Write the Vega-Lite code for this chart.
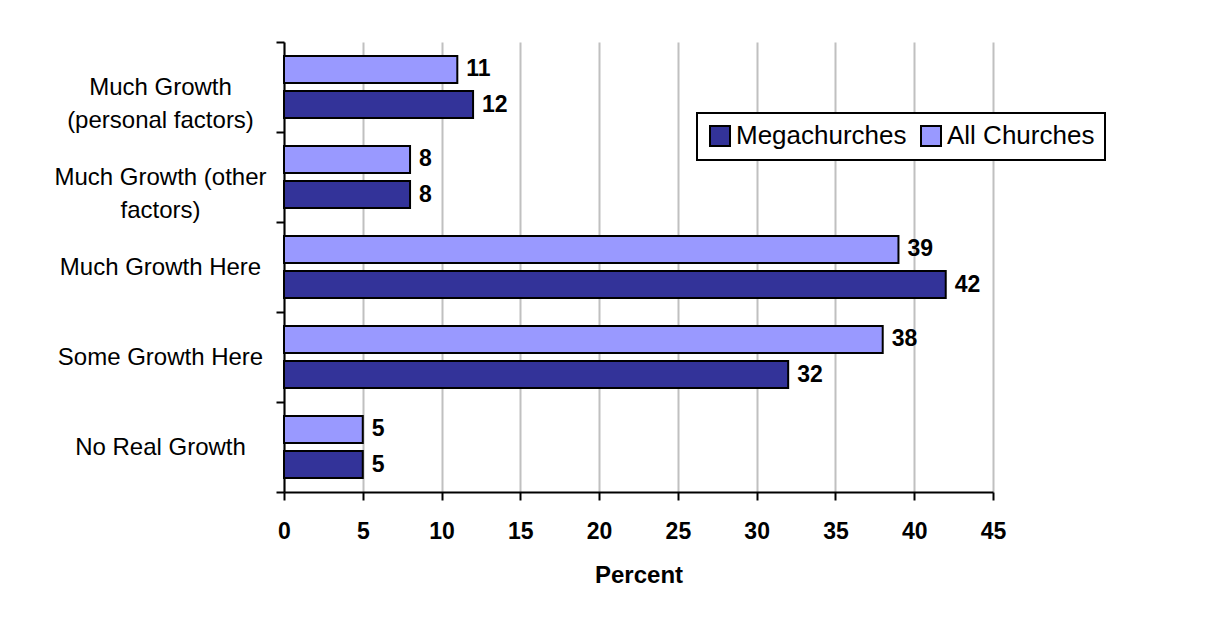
{
  "$schema": "https://vega.github.io/schema/vega-lite/v6.json",
  "width": 709,
  "height": 450,
  "autosize": {"type": "none"},
  "padding": {"left": 284, "top": 42, "right": 222, "bottom": 134},
  "background": "white",
  "config": {
    "view": {"stroke": null},
    "font": "Liberation Sans",
    "legend": {"strokeWidth": 2}
  },
  "data": {
    "values": [
      {"category": "Much Growth (personal factors)", "series": "All Churches", "value": 11},
      {"category": "Much Growth (personal factors)", "series": "Megachurches", "value": 12},
      {"category": "Much Growth (other factors)", "series": "All Churches", "value": 8},
      {"category": "Much Growth (other factors)", "series": "Megachurches", "value": 8},
      {"category": "Much Growth Here", "series": "All Churches", "value": 39},
      {"category": "Much Growth Here", "series": "Megachurches", "value": 42},
      {"category": "Some Growth Here", "series": "All Churches", "value": 38},
      {"category": "Some Growth Here", "series": "Megachurches", "value": 32},
      {"category": "No Real Growth", "series": "All Churches", "value": 5},
      {"category": "No Real Growth", "series": "Megachurches", "value": 5}
    ]
  },
  "encoding": {
    "y": {
      "field": "category",
      "type": "nominal",
      "sort": ["Much Growth (personal factors)", "Much Growth (other factors)", "Much Growth Here", "Some Growth Here", "No Real Growth"],
      "scale": {"paddingInner": 0, "paddingOuter": 0},
      "axis": {
        "title": null,
        "tickBand": "extent",
        "grid": false,
        "domainColor": "black",
        "domainWidth": 2,
        "tickColor": "black",
        "tickWidth": 2,
        "tickSize": 8,
        "labelAlign": "center",
        "labelBaseline": "middle",
        "labelPadding": 116,
        "labelFont": "Liberation Sans",
        "labelFontSize": 24,
        "labelColor": "black",
        "labelLineHeight": 33,
        "labelLimit": 0,
        "labelOverlap": false,
        "labelExpr": "datum.value == 'Much Growth (personal factors)' ? ['Much Growth', '(personal factors)'] : datum.value == 'Much Growth (other factors)' ? ['Much Growth (other', 'factors)'] : datum.value"
      }
    },
    "yOffset": {
      "field": "series",
      "type": "nominal",
      "sort": ["All Churches", "Megachurches"],
      "scale": {"paddingInner": 0.23, "paddingOuter": 0.4}
    },
    "x": {
      "field": "value",
      "type": "quantitative",
      "scale": {"domain": [0, 45], "nice": false},
      "axis": {
        "values": [0, 5, 10, 15, 20, 25, 30, 35, 40, 45],
        "grid": true,
        "gridColor": "#c0c0c0",
        "gridWidth": 2,
        "domainColor": "black",
        "domainWidth": 2,
        "tickColor": "black",
        "tickWidth": 2,
        "tickSize": 8,
        "labelFlush": false,
        "labelFont": "Liberation Sans",
        "labelFontSize": 23,
        "labelFontWeight": "bold",
        "labelColor": "black",
        "labelPadding": 20,
        "title": "Percent",
        "titleFont": "Liberation Sans",
        "titleFontSize": 24,
        "titleFontWeight": "bold",
        "titleColor": "black",
        "titlePadding": 20
      }
    }
  },
  "layer": [
    {
      "mark": {"type": "bar", "stroke": "black", "strokeWidth": 2},
      "encoding": {
        "color": {
          "field": "series",
          "type": "nominal",
          "scale": {"domain": ["Megachurches", "All Churches"], "range": ["#333399", "#9999ff"]},
          "legend": {
            "title": null,
            "orient": "none",
            "direction": "horizontal",
            "legendX": 413,
            "legendY": 71,
            "padding": 10,
            "strokeColor": "black",
            "fillColor": "white",
            "symbolType": "square",
            "symbolSize": 400,
            "symbolStrokeColor": "black",
            "symbolStrokeWidth": 2,
            "symbolOpacity": 1,
            "labelFont": "Liberation Sans",
            "labelFontSize": 26,
            "labelColor": "black",
            "labelOffset": 3,
            "columnPadding": 10,
            "labelLimit": 0
          }
        }
      }
    },
    {
      "mark": {"type": "text", "align": "left", "baseline": "middle", "dx": 9, "font": "Liberation Sans", "fontSize": 23, "fontWeight": "bold", "color": "black"},
      "encoding": {
        "text": {"field": "value", "type": "quantitative"}
      }
    }
  ]
}
